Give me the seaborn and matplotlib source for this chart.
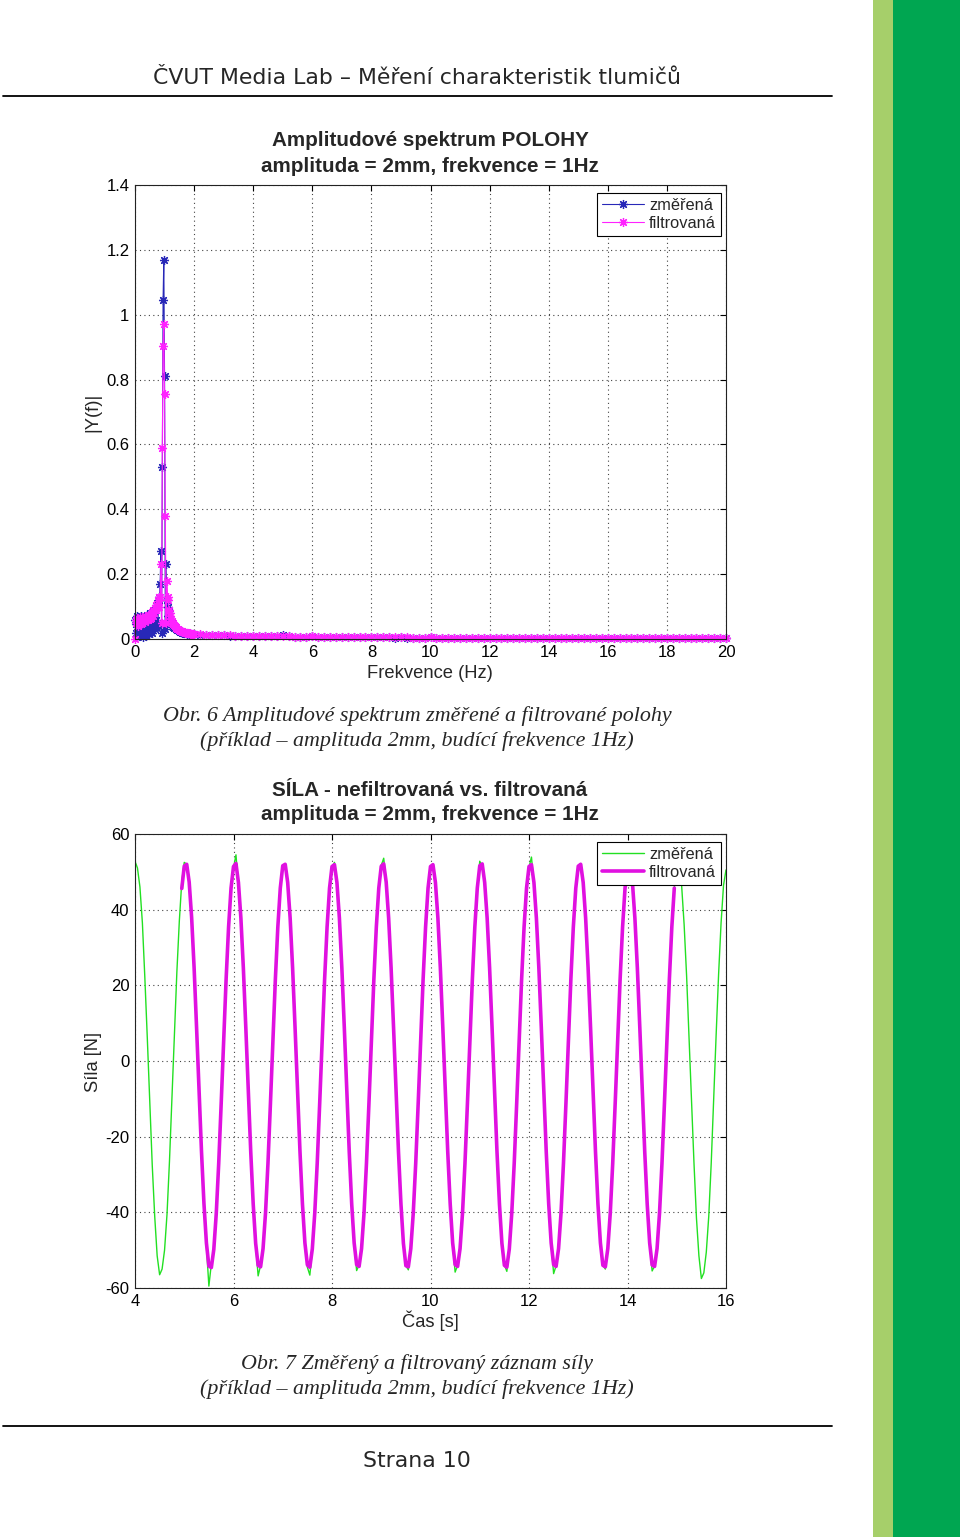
import numpy as np
import pandas as pd
import seaborn as sns
import matplotlib.pyplot as plt
from matplotlib.patches import Rectangle
from matplotlib.lines import Line2D
from matplotlib.ticker import FuncFormatter

# --- spectrum (Obr. 6) ---
# frequency grid: fine steps up to 2 Hz, coarse steps for the tail
freq_low = np.arange(80) * 0.025
freq_tail = 2.0 + np.arange(91) * 0.2

amp_meas_low = [
    0.060, 0.045, 0.020, 0.070, 0.030, 0.010, 0.065, 0.025, 0.072, 0.015,
    0.055, 0.005, 0.068, 0.020, 0.060, 0.010, 0.075, 0.030, 0.070, 0.015,
    0.080, 0.040, 0.075, 0.020, 0.085, 0.050, 0.090, 0.030, 0.095, 0.060,
    0.110, 0.040, 0.130, 0.120, 0.170, 0.270, 0.020, 0.530, 1.045, 1.170,
    0.810, 0.030, 0.230, 0.120, 0.100, 0.070, 0.085, 0.050, 0.060, 0.045,
    0.050, 0.038, 0.042, 0.033, 0.036, 0.030, 0.032, 0.027, 0.028, 0.024,
    0.025, 0.022, 0.023, 0.020, 0.021, 0.019, 0.020, 0.018, 0.019, 0.017,
    0.018, 0.016, 0.017, 0.016, 0.016, 0.015, 0.015, 0.015, 0.014, 0.014,
]
amp_filt_low = [
    0.000, 0.060, 0.050, 0.065, 0.040, 0.062, 0.048, 0.068, 0.045, 0.066,
    0.050, 0.064, 0.055, 0.070, 0.052, 0.068, 0.058, 0.072, 0.060, 0.075,
    0.062, 0.078, 0.066, 0.082, 0.072, 0.088, 0.080, 0.095, 0.090, 0.105,
    0.100, 0.118, 0.130, 0.100, 0.130, 0.230, 0.050, 0.590, 0.905, 0.970,
    0.755, 0.380, 0.050, 0.180, 0.130, 0.120, 0.090, 0.080, 0.070, 0.062,
    0.056, 0.050, 0.046, 0.042, 0.039, 0.036, 0.034, 0.032, 0.030, 0.028,
    0.027, 0.026, 0.025, 0.024, 0.023, 0.022, 0.021, 0.021, 0.020, 0.019,
    0.019, 0.018, 0.018, 0.017, 0.017, 0.016, 0.016, 0.016, 0.015, 0.015,
]
amp_meas_tail = [
    0.014, 0.013, 0.012, 0.012, 0.011, 0.011, 0.010, 0.010, 0.009, 0.009,
    0.009, 0.008, 0.008, 0.008, 0.009, 0.012, 0.008, 0.007, 0.007, 0.007,
    0.010, 0.007, 0.006, 0.006, 0.006, 0.006, 0.005, 0.006, 0.005, 0.005,
    0.006, 0.005, 0.005, 0.005, 0.004, 0.005, 0.004, 0.004, 0.004, 0.004,
    0.005, 0.004, 0.004, 0.004, 0.004, 0.003, 0.004, 0.004, 0.003, 0.003,
    0.004, 0.003, 0.003, 0.003, 0.003, 0.003, 0.003, 0.003, 0.003, 0.003,
    0.003, 0.003, 0.003, 0.003, 0.002, 0.003, 0.003, 0.003, 0.002, 0.003,
    0.003, 0.002, 0.003, 0.003, 0.002, 0.003, 0.002, 0.002, 0.003, 0.002,
    0.002, 0.003, 0.002, 0.002, 0.002, 0.003, 0.002, 0.002, 0.002, 0.002,
    0.002,
]
amp_filt_tail = [
    0.015, 0.014, 0.013, 0.012, 0.012, 0.011, 0.011, 0.010, 0.010, 0.009,
    0.009, 0.009, 0.008, 0.008, 0.008, 0.009, 0.008, 0.007, 0.007, 0.007,
    0.008, 0.007, 0.007, 0.006, 0.006, 0.006, 0.006, 0.006, 0.005, 0.005,
    0.006, 0.005, 0.005, 0.005, 0.005, 0.005, 0.005, 0.004, 0.004, 0.004,
    0.005, 0.004, 0.004, 0.004, 0.004, 0.004, 0.004, 0.004, 0.004, 0.004,
    0.004, 0.004, 0.004, 0.003, 0.003, 0.004, 0.003, 0.003, 0.003, 0.003,
    0.003, 0.003, 0.004, 0.003, 0.003, 0.003, 0.003, 0.003, 0.003, 0.003,
    0.003, 0.003, 0.003, 0.003, 0.003, 0.003, 0.003, 0.003, 0.003, 0.003,
    0.003, 0.003, 0.003, 0.003, 0.003, 0.003, 0.003, 0.003, 0.003, 0.003,
    0.003,
]

# --- force (Obr. 7), sampled every 0.05 s ---
t_meas = np.linspace(4.0, 16.0, 241)
force_meas = [
    52.8, 51.0, 46.0, 36.5, 22.0, 6.0, -11.0, -27.5, -41.0, -51.5, -56.5, -55.0, -50.0, -40.5, -26.5, -10.0, 7.0, 23.5, 37.0, 47.5,
    52.5, 52.0, 47.8, 37.2, 24.9, 8.1, -8.4, -23.6, -38.5, -48.9, -59.5, -53.6, -50.2, -39.6, -27.5, -10.8, 5.1, 22.2, 35.0, 46.1,
    51.0, 54.5, 46.5, 38.3, 24.1, 9.3, -7.5, -24.6, -37.2, -48.6, -56.8, -54.0, -49.1, -40.8, -26.6, -11.6, 6.0, 21.0, 35.9, 45.2,
    51.9, 51.4, 47.9, 37.1, 25.0, 8.4, -8.3, -23.4, -38.3, -47.6, -54.5, -56.6, -50.1, -39.7, -27.4, -10.7, 5.0, 22.1, 34.9, 46.2,
    51.1, 52.5, 46.8, 38.2, 24.2, 9.2, -7.5, -24.5, -37.3, -48.7, -55.4, -53.9, -49.2, -40.7, -26.5, -11.7, 5.9, 21.2, 35.8, 45.3,
    51.7, 53.6, 47.5, 37.4, 24.9, 8.4, -8.2, -23.7, -38.1, -47.8, -54.1, -55.2, -49.9, -39.9, -27.3, -10.9, 5.2, 21.9, 35.1, 46.0,
    51.3, 52.0, 46.9, 38.1, 24.3, 9.1, -7.6, -24.3, -37.5, -48.4, -55.8, -54.0, -49.3, -40.5, -26.7, -11.5, 5.8, 21.3, 35.6, 45.4,
    52.8, 51.6, 47.4, 37.5, 24.8, 8.5, -8.1, -23.8, -38.0, -47.9, -53.9, -55.6, -49.8, -40.0, -27.2, -11.0, 5.3, 21.8, 35.2, 45.9,
    51.2, 53.9, 47.0, 38.0, 24.4, 9.0, -7.7, -24.2, -37.6, -48.3, -56.2, -54.1, -49.4, -40.4, -26.8, -11.4, 5.7, 21.4, 35.5, 45.5,
    51.6, 52.2, 47.3, 37.6, 24.7, 8.6, -8.0, -23.9, -37.9, -48.0, -54.0, -55.0, -49.7, -40.1, -27.1, -11.1, 5.4, 21.7, 35.3, 45.8,
    51.3, 54.8, 47.1, 37.9, 24.5, 8.9, -7.8, -24.1, -37.7, -48.2, -55.5, -54.2, -49.5, -40.3, -26.9, -11.3, 5.6, 21.5, 35.4, 45.6,
    51.8, 53.8, 46.2, 36.0, 22.5, 6.0, -10.5, -27.0, -41.5, -51.5, -57.5, -56.0, -50.5, -41.0, -27.0, -10.0, 7.0, 23.0, 36.5, 46.5,
    50.5,
]
t_filt = np.linspace(4.95, 14.95, 201)
force_filt = [
    45.6,
    51.5, 52.0, 47.3, 37.9, 24.7, 8.9, -7.8, -23.9, -37.7, -48.1, -54.2, -54.6, -49.8, -40.3, -27.0, -11.2, 5.5, 21.6, 35.4, 45.7,
    51.4, 52.2, 47.2, 37.8, 24.6, 8.8, -7.9, -24.0, -37.8, -48.2, -54.0, -54.4, -49.6, -40.2, -27.0, -11.2, 5.5, 21.6, 35.4, 45.7,
    51.6, 52.0, 47.2, 37.8, 24.6, 8.8, -7.9, -24.0, -37.8, -48.1, -53.9, -54.5, -49.7, -40.2, -27.0, -11.2, 5.5, 21.6, 35.4, 45.7,
    51.4, 51.9, 47.2, 37.8, 24.6, 8.8, -7.9, -24.0, -37.8, -48.1, -53.8, -54.3, -49.6, -40.2, -27.0, -11.2, 5.5, 21.6, 35.4, 45.7,
    51.5, 52.1, 47.3, 37.8, 24.6, 8.8, -7.9, -24.0, -37.8, -48.2, -54.1, -54.4, -49.6, -40.2, -27.0, -11.2, 5.5, 21.6, 35.4, 45.7,
    51.4, 51.9, 47.2, 37.8, 24.6, 8.8, -7.9, -24.0, -37.8, -48.1, -53.8, -54.3, -49.6, -40.2, -27.0, -11.2, 5.5, 21.6, 35.4, 45.7,
    51.6, 52.1, 47.2, 37.8, 24.6, 8.8, -7.9, -24.0, -37.8, -48.2, -54.0, -54.5, -49.7, -40.2, -27.0, -11.2, 5.5, 21.6, 35.4, 45.7,
    51.4, 51.9, 47.2, 37.8, 24.6, 8.8, -7.9, -24.0, -37.8, -48.1, -53.8, -54.3, -49.6, -40.2, -27.0, -11.2, 5.5, 21.6, 35.4, 45.7,
    51.5, 52.0, 47.2, 37.8, 24.6, 8.8, -7.9, -24.0, -37.8, -48.1, -54.0, -54.4, -49.6, -40.2, -27.0, -11.2, 5.5, 21.6, 35.4, 45.7,
    51.4, 51.9, 47.2, 37.8, 24.6, 8.8, -7.9, -24.0, -37.8, -48.1, -53.9, -54.3, -49.6, -40.2, -27.0, -11.2, 5.5, 21.6, 35.4, 45.7,
]

W, H = 960, 1537
BLUE = '#2828b8'
PINK = '#ff22ff'
GREEN = '#22e022'
MAGENTA = '#e010e0'


def fx(px):
    return px / W


def fy(py):
    return 1 - py / H


def style_axes(ax, xlim, ylim, xticks, yticks):
    ax.set_xlim(*xlim)
    ax.set_ylim(*ylim)
    ax.set_xticks(xticks)
    ax.set_yticks(yticks)
    fmt = FuncFormatter(lambda v, p: '%g' % round(v, 6))
    ax.xaxis.set_major_formatter(fmt)
    ax.yaxis.set_major_formatter(fmt)
    ax.grid(True, linestyle=(0, (1, 3)), color='#444444', linewidth=0.8)
    ax.set_axisbelow(True)
    ax.tick_params(direction='in', length=4, width=0.8, top=True, right=True,
                   labelsize=12, pad=4, colors='black')
    for sp in ax.spines.values():
        sp.set_color('#222222')
        sp.set_linewidth(0.8)
    ax.set_xlabel('')
    ax.set_ylabel('')


def add_legend(ax):
    leg = ax.legend(loc='upper right', bbox_to_anchor=(1 - 5 / 591, 1 - 8 / 454),
                    borderaxespad=0, fontsize=11.8, handlelength=2.6,
                    fancybox=False, edgecolor='black', framealpha=1,
                    borderpad=0.3, labelspacing=0.2, handletextpad=0.3)
    leg.get_frame().set_linewidth(0.8)


def main():
    sns.set_style('white')
    plt.rcParams['font.family'] = ['Liberation Sans', 'DejaVu Sans']

    fig = plt.figure(figsize=(W / 100, H / 100), dpi=100)

    # page decoration
    fig.add_artist(Rectangle((fx(873), 0), fx(20), 1, transform=fig.transFigure,
                             color='#a6cf6a', lw=0))
    fig.add_artist(Rectangle((fx(893), 0), fx(67), 1, transform=fig.transFigure,
                             color='#00a651', lw=0))
    for yy in (96, 1426):
        fig.add_artist(Line2D([fx(3), fx(832)], [fy(yy), fy(yy)],
                              transform=fig.transFigure, color='black', lw=1.3))
    fig.text(fx(417), fy(78), 'ČVUT Media Lab – Měření charakteristik tlumičů',
             ha='center', va='center', family='DejaVu Sans', fontsize=15.8)
    fig.text(fx(417), fy(1461), 'Strana 10', ha='center', va='center',
             family='DejaVu Sans', fontsize=15.8)

    # ---- chart 1: spectrum ----
    spec = pd.DataFrame({
        'f': np.concatenate([freq_low, freq_tail]),
        'meas': amp_meas_low + amp_meas_tail,
        'filt': amp_filt_low + amp_filt_tail,
    })
    ax1 = fig.add_axes([fx(135), fy(639), fx(591), 454 / H])
    sns.lineplot(data=spec, x='f', y='meas', ax=ax1, color=BLUE, lw=0.8,
                 marker=(8, 2, 0), markersize=6.5, markeredgecolor=BLUE,
                 markeredgewidth=0.9, estimator=None, sort=False,
                 label='změřená', clip_on=False)
    sns.lineplot(data=spec, x='f', y='filt', ax=ax1, color=PINK, lw=0.8,
                 marker=(8, 2, 0), markersize=6.5, markeredgecolor=PINK,
                 markeredgewidth=0.9, estimator=None, sort=False,
                 label='filtrovaná', clip_on=False)
    style_axes(ax1, (0, 20), (0, 1.4), np.arange(0, 21, 2), np.arange(0, 1.41, 0.2))
    add_legend(ax1)

    fig.text(fx(430), fy(141), 'Amplitudové spektrum POLOHY', ha='center',
             va='center', fontsize=14.9, fontweight='bold')
    fig.text(fx(430), fy(166), 'amplituda = 2mm, frekvence = 1Hz', ha='center',
             va='center', fontsize=14.9, fontweight='bold')
    fig.text(fx(430), fy(673), 'Frekvence (Hz)', ha='center', va='center', fontsize=13.2)
    fig.text(fx(93), fy(412), '|Y(f)|', ha='center', va='center', fontsize=13.2,
             rotation=90)

    fig.text(fx(417), fy(716), 'Obr. 6 Amplitudové spektrum změřené a filtrované polohy',
             ha='center', va='center', family='Liberation Serif', style='italic',
             fontsize=15.8)
    fig.text(fx(417), fy(741), '(příklad – amplituda 2mm, budící frekvence 1Hz)',
             ha='center', va='center', family='Liberation Serif', style='italic',
             fontsize=15.8)

    # ---- chart 2: force ----
    meas = pd.DataFrame({'t': t_meas, 'F': force_meas})
    filt = pd.DataFrame({'t': t_filt, 'F': force_filt})
    ax2 = fig.add_axes([fx(135), fy(1288), fx(591), 454 / H])
    sns.lineplot(data=meas, x='t', y='F', ax=ax2, color=GREEN, lw=1.0,
                 estimator=None, sort=False, label='změřená')
    sns.lineplot(data=filt, x='t', y='F', ax=ax2, color=MAGENTA, lw=2.6,
                 estimator=None, sort=False, label='filtrovaná')
    style_axes(ax2, (4, 16), (-60, 60), np.arange(4, 17, 2), np.arange(-60, 61, 20))
    add_legend(ax2)

    fig.text(fx(430), fy(790), 'SÍLA - nefiltrovaná vs. filtrovaná', ha='center',
             va='center', fontsize=14.9, fontweight='bold')
    fig.text(fx(430), fy(815), 'amplituda = 2mm, frekvence = 1Hz', ha='center',
             va='center', fontsize=14.9, fontweight='bold')
    fig.text(fx(430), fy(1321), 'Čas [s]', ha='center', va='center', fontsize=13.2)
    fig.text(fx(93), fy(1062), 'Síla [N]', ha='center', va='center', fontsize=13.2,
             rotation=90)

    fig.text(fx(417), fy(1364), 'Obr. 7 Změřený a filtrovaný záznam síly',
             ha='center', va='center', family='Liberation Serif', style='italic',
             fontsize=15.8)
    fig.text(fx(417), fy(1389), '(příklad – amplituda 2mm, budící frekvence 1Hz)',
             ha='center', va='center', family='Liberation Serif', style='italic',
             fontsize=15.8)

    fig.savefig('out.png', dpi=100)
    plt.close(fig)


if __name__ == "__main__":
    main()
